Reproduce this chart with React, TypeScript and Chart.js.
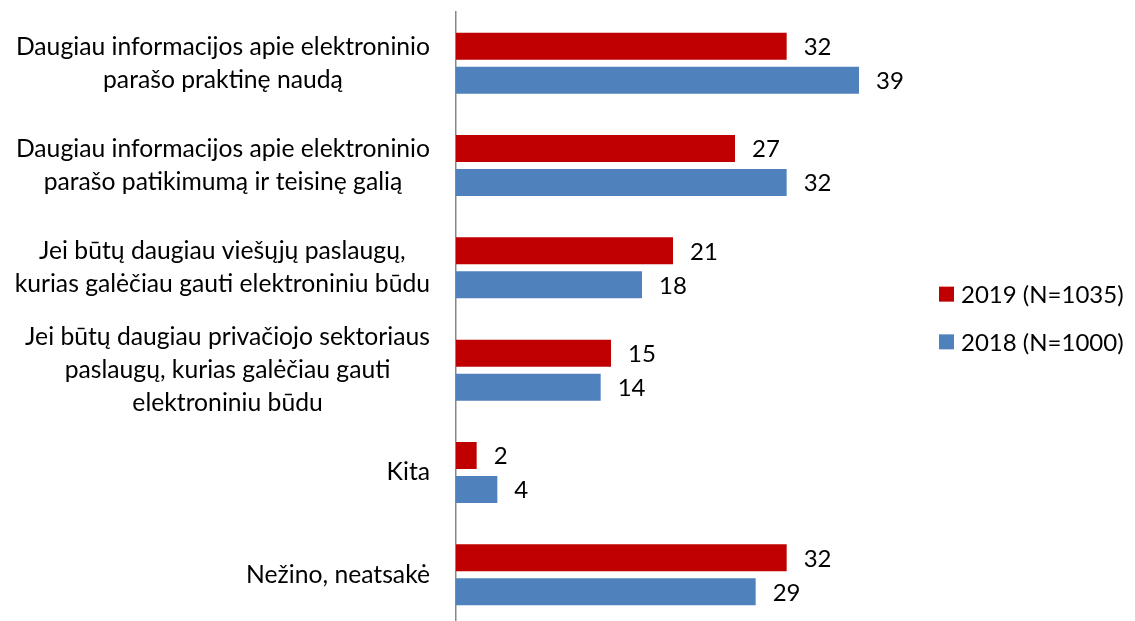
import React, { useEffect, useRef } from "react";
import { Chart, registerables } from "chart.js";

Chart.register(...registerables);

const categories: string[][] = [
  ["Daugiau informacijos apie elektroninio", "parašo praktinę naudą"],
  ["Daugiau informacijos apie elektroninio", "parašo patikimumą ir teisinę galią"],
  ["Jei būtų daugiau viešųjų paslaugų,", "kurias galėčiau gauti elektroniniu būdu"],
  ["Jei būtų daugiau privačiojo sektoriaus", "paslaugų, kurias galėčiau gauti", "elektroniniu būdu"],
  ["Kita"],
  ["Nežino, neatsakė"],
];
const series = ["2019 (N=1035)", "2018 (N=1000)"];
const values2019 = [32, 27, 21, 15, 2, 32];
const values2018 = [39, 32, 18, 14, 4, 29];
const colors = ["#C00000", "#4F81BD"];

const FONT_FAMILY = "Lato, 'Open Sans', sans-serif";
const LABEL_FONT_SIZE = 24.7;
const NUM_FONT_SIZE = 24;
const LINE_HEIGHT = 33;

const textPlugin = {
  id: "customText",
  afterDatasetsDraw(chart: any) {
    const ctx = chart.ctx as CanvasRenderingContext2D;
    const yScale = chart.scales.y;
    const area = chart.chartArea;
    ctx.save();
    ctx.fillStyle = "#000";
    ctx.textBaseline = "middle";

    // category labels: block right-aligned near the axis, lines centred in block
    ctx.font = `${LABEL_FONT_SIZE}px ${FONT_FAMILY}`;
    const labelRight = area.left - 26;
    categories.forEach((lines, i) => {
      const cy = yScale.getPixelForValue(i);
      const blockW = Math.max(...lines.map((l) => ctx.measureText(l).width));
      const cx = labelRight - blockW / 2;
      ctx.textAlign = "center";
      lines.forEach((line, k) => {
        const ly = cy + (k - (lines.length - 1) / 2) * LINE_HEIGHT;
        ctx.fillText(line, cx, ly);
      });
    });

    // value labels
    ctx.font = `${NUM_FONT_SIZE}px ${FONT_FAMILY}`;
    ctx.textAlign = "left";
    chart.data.datasets.forEach((ds: any, di: number) => {
      const meta = chart.getDatasetMeta(di);
      meta.data.forEach((bar: any, i: number) => {
        ctx.fillText(String(ds.data[i]), bar.x + 17, bar.y + 1);
      });
    });

    // legend
    const lx = area.right + 18;
    const midY = (area.top + area.bottom) / 2 - 1;
    chart.data.datasets.forEach((ds: any, di: number) => {
      const iy = midY + (di - 0.5) * 47.7;
      ctx.fillStyle = ds.backgroundColor;
      ctx.fillRect(lx, iy - 7.5, 15, 15);
      ctx.fillStyle = "#000";
      ctx.fillText(ds.label, lx + 22, iy + 1);
    });
    ctx.restore();
  },
};

export default function App() {
  const ref = useRef<HTMLCanvasElement | null>(null);
  useEffect(() => {
    if (!ref.current) return;
    const chart = new Chart(ref.current, {
      type: "bar",
      data: {
        labels: categories.map((c) => c.join(" ")),
        datasets: [
          { label: series[0], data: values2019, backgroundColor: colors[0], categoryPercentage: 0.6645, barPercentage: 0.794 },
          { label: series[1], data: values2018, backgroundColor: colors[1], categoryPercentage: 0.6645, barPercentage: 0.794 },
        ],
      },
      options: {
        indexAxis: "y",
        responsive: false,
        animation: false,
        layout: { padding: { top: 12, bottom: 14, left: 0, right: 214 } },
        plugins: { legend: { display: false }, tooltip: { enabled: false } },
        scales: {
          x: { type: "linear", min: 0, max: 45, display: false },
          y: {
            type: "category",
            grid: { display: false, drawTicks: false },
            border: { display: true, color: "#888888", width: 1.5 },
            ticks: { display: false },
            afterFit: (s: any) => {
              s.width = 456;
            },
          },
        },
      },
      plugins: [textPlugin],
    } as any);
    return () => chart.destroy();
  }, []);
  return (
    <div style={{ position: "absolute", left: 0, top: 0, width: 1135, height: 640, background: "#fff" }}>
      <canvas ref={ref} width={1135} height={640} style={{ display: "block" }} />
    </div>
  );
}
